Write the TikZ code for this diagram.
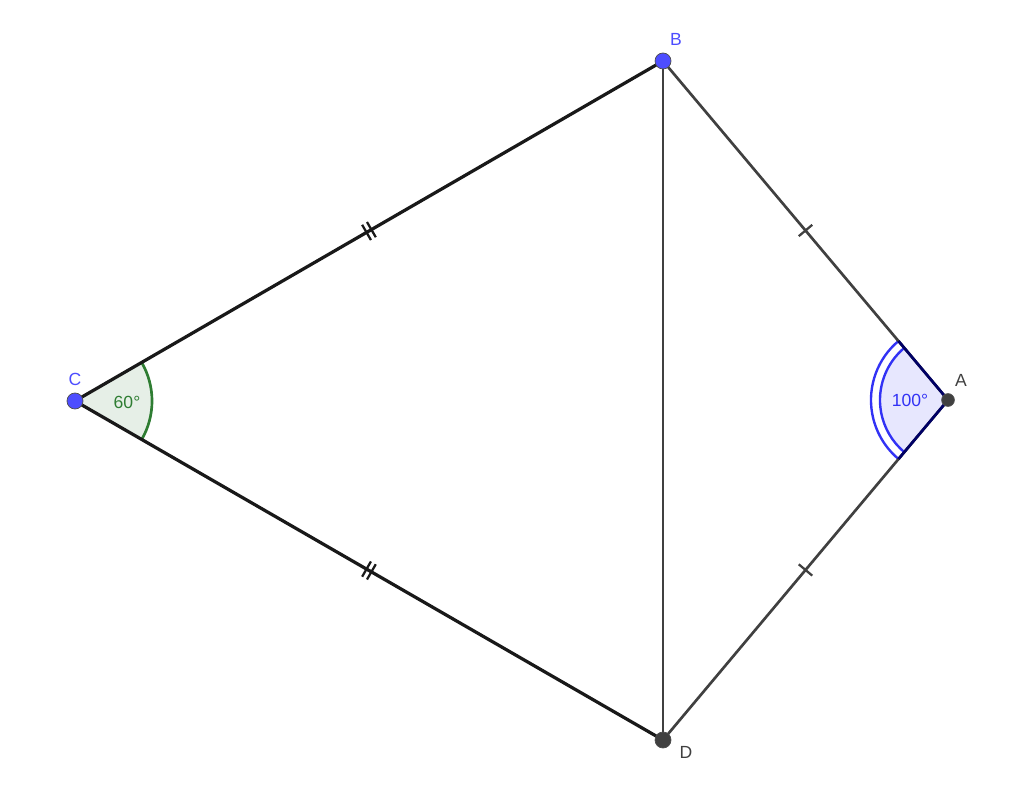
\documentclass[tikz,border=0pt]{standalone}
\usepackage{fontspec}
\setmainfont{Liberation Sans}
\usetikzlibrary{calc,decorations.markings}
\definecolor{ptblue}{RGB}{77,77,255}
\definecolor{ptgray}{RGB}{64,64,64}
\definecolor{anggreen}{RGB}{46,125,50}
\definecolor{angblue}{RGB}{50,50,245}

\begin{document}
\begin{tikzpicture}[x=0.025cm,y=0.025cm,
  pt/.style={circle,draw=black!70,line width=0.5pt,inner sep=0pt,minimum size=0.4cm},
  lbl/.style={font=\fontsize{12.5}{14}\selectfont},
  side/.style={line width=1.9pt,draw=ptgray},
  bigside/.style={line width=2.3pt,draw=black!90},
  onetick/.style={postaction={decorate},decoration={markings,
    mark=at position 0.5 with {\draw[line width=1.6pt] (0,-0.22cm) -- (0,0.22cm);}}},
  twotick/.style={postaction={decorate},decoration={markings,
    mark=at position 0.5 with {\draw[line width=1.6pt] (-0.07cm,-0.22cm) -- (-0.07cm,0.22cm);
      \draw[line width=1.6pt] (0.07cm,-0.22cm) -- (0.07cm,0.22cm);}}}]
\useasboundingbox (0,0) rectangle (1024,804);
\coordinate (C) at (75,403);
\coordinate (B) at (663,743);
\coordinate (D) at (663,64);
\coordinate (A) at (948,404);

% angle at C
\fill[anggreen!12] (C) -- ++(-30:1.925cm) arc[start angle=-30,end angle=30,radius=1.925cm] -- cycle;
\draw[anggreen,line width=1.9pt] ($(C)+(-30:1.925cm)$) arc[start angle=-30,end angle=30,radius=1.925cm];
% angle at A
\fill[angblue!12] (A) -- ++(130:1.7cm) arc[start angle=130,end angle=230,radius=1.7cm] -- cycle;
\draw[angblue,line width=1.7pt] ($(A)+(130:1.7cm)$) arc[start angle=130,end angle=230,radius=1.7cm];
\draw[angblue,line width=1.7pt] ($(A)+(130:1.925cm)$) arc[start angle=130,end angle=230,radius=1.925cm];

% sides
\draw[bigside,twotick] (C) -- (B);
\draw[bigside,twotick] (C) -- (D);
\draw[side] (B) -- (D);
\draw[side,onetick] (B) -- (A);
\draw[side,onetick] (A) -- (D);
\draw[line width=1.9pt,draw=black!60!blue] ($(A)+(130:1.925cm)$) -- (A) -- ($(A)+(230:1.925cm)$);

% angle texts
\node[lbl,text=anggreen] (t60) at (127,402) {60°};
\node[lbl,text=angblue] (t100) at (910,404) {100°};

% points
\node[pt,fill=ptblue] (pC) at (C) {};
\node[pt,fill=ptblue] (pB) at (B) {};
\node[pt,fill=ptgray] (pD) at (D) {};
\node[pt,fill=ptgray,minimum size=0.32cm] (pA) at (A) {};
\node[lbl,text=ptblue] (lC) at (75,425) {C};
\node[lbl,text=ptblue] (lB) at (676,765) {B};
\node[lbl,text=ptgray] (lA) at (961,424) {A};
\node[lbl,text=ptgray] (lD) at (686,52) {D};
\end{tikzpicture}
\end{document}
